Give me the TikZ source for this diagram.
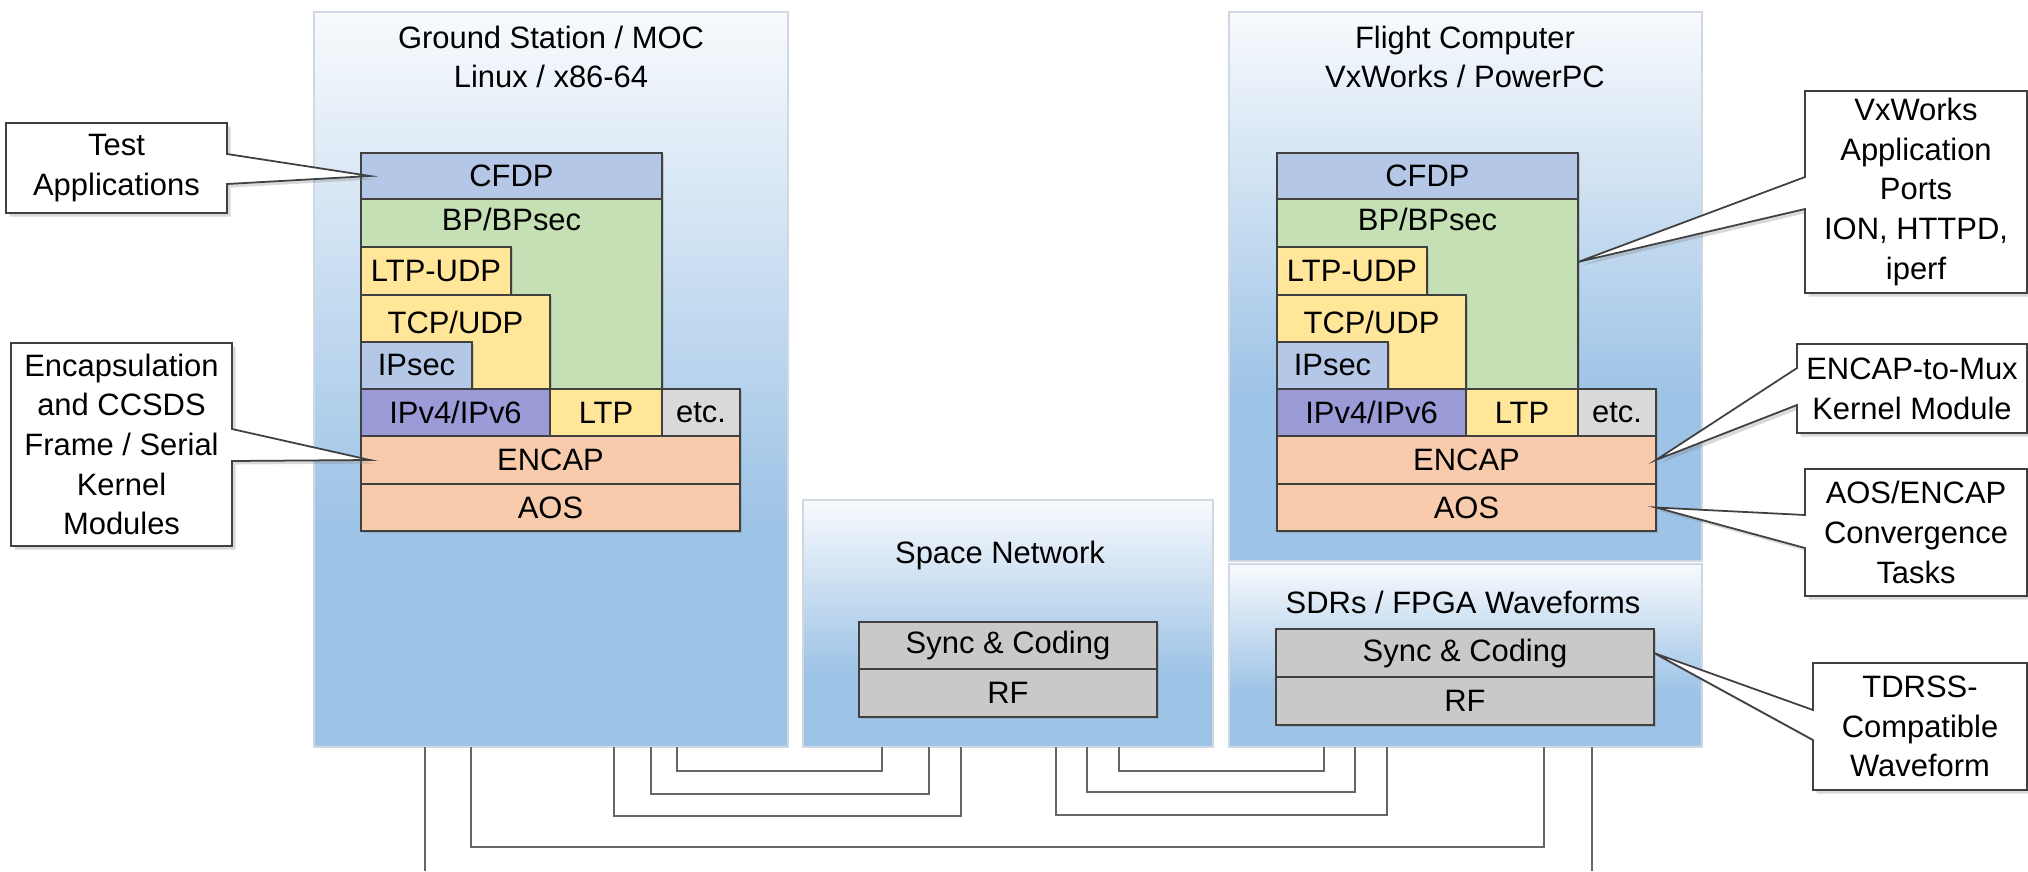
\documentclass[tikz,border=0pt]{standalone}
\usepackage{fontspec}
\setmainfont{Liberation Sans}
\usetikzlibrary{calc}
\usetikzlibrary{shadows}

\definecolor{panelblue}{HTML}{9DC3E6}
\definecolor{paneltop}{HTML}{F8FAFD}
\definecolor{panelline}{HTML}{D0D8E1}
\definecolor{appblue}{HTML}{B4C7E7}
\definecolor{bpgreen}{HTML}{C5E0B4}
\definecolor{tpyellow}{HTML}{FFE699}
\definecolor{ipviolet}{HTML}{9B9BD7}
\definecolor{etcgray}{HTML}{D9D9D9}
\definecolor{linkpeach}{HTML}{F8CBAD}
\definecolor{phygray}{HTML}{C9C9C9}
\definecolor{boxline}{HTML}{404040}

\pgfdeclareverticalshading{panelshade}{100bp}{color(0bp)=(panelblue); color(25bp)=(panelblue); color(40bp)=(panelblue); color(75bp)=(paneltop); color(100bp)=(paneltop)}

\tikzset{
  panel/.style={rectangle, draw=panelline, line width=0.4pt, shading=panelshade, anchor=north west, inner sep=0pt, outer sep=0pt},
  layer/.style={rectangle, draw=boxline, line width=0.5pt, anchor=north west, inner sep=0pt, outer sep=0pt,
    drop shadow={shadow xshift=0.6pt, shadow yshift=-0.6pt, opacity=0.3}},
  tag/.style={inner sep=0pt, anchor=north},
  callbox/.style={rectangle, inner sep=0pt, outer sep=0pt},
  callout/.style={fill=white, draw=boxline, line width=0.5pt,
    drop shadow={shadow xshift=1pt, shadow yshift=-1pt, opacity=0.3}},
  calltext/.style={align=center, inner sep=0pt},
  wire/.style={draw=black!60, line width=0.6pt}
}

\begin{document}
\begin{tikzpicture}[x=0.1mm, y=-0.1mm, font=\fontsize{8.8}{11.3}\selectfont]
  \useasboundingbox (0,0) rectangle (2028,871);

  % panels
  \node[panel, minimum width=47.4mm, minimum height=73.5mm] (gs) at (314,12) {};
  \node[panel, minimum width=47.3mm, minimum height=54.9mm] (fc) at (1229,12) {};
  \node[panel, minimum width=41.0mm, minimum height=24.7mm] (sn) at (803,500) {};
  \node[panel, minimum width=47.3mm, minimum height=18.3mm] (sdr) at (1229,564) {};

  \node[align=center] (gs-title) at (551,57) {Ground Station / MOC\\Linux / x86-64};
  \node[align=center] (fc-title) at (1465,57) {Flight Computer\\VxWorks / PowerPC};
  \node (sn-title) at (1000,555) {Space Network};
  \node (sdr-title) at (1463,602) {SDRs / FPGA Waveforms};

  % links between panels
  \foreach \a/\b/\h in {677/882/771, 651/929/794, 614/961/816}
    \draw[wire] (\a,0 |- gs.south) |- (\b,\h) -- (\b,0 |- sn.south);
  \foreach \a/\b/\h in {1119/1324/771, 1087/1355/792, 1056/1387/815}
    \draw[wire] (\a,0 |- sn.south) |- (\b,\h) -- (\b,0 |- sdr.south);
  \draw[wire] (471,0 |- gs.south) |- (1544,847) -- (1544,0 |- sdr.south);
  \coordinate (gs-out) at (425,871);
  \coordinate (sdr-out) at (1592,871);
  \draw[wire] (gs-out |- gs.south) -- (gs-out);
  \draw[wire] (sdr-out |- sdr.south) -- (sdr-out);

  % protocol stacks
  \foreach \s/\dx in {g/0mm, f/91.6mm}{
    \begin{scope}[xshift=\dx]
      \node[layer, fill=appblue, minimum width=30.1mm, minimum height=4.6mm] (\s-cfdp) at (361,153) {CFDP};
      \node[layer, fill=bpgreen, minimum width=30.1mm, minimum height=19mm] (\s-bp) at (\s-cfdp.south west) {};
      \node[tag] (\s-bptext) at ($(\s-bp.north)+(0,8)$) {BP/BPsec};
      \node[layer, fill=tpyellow, minimum width=15mm, minimum height=4.8mm] (\s-ltpudp) at ($(\s-bp.north west)+(0,48)$) {LTP-UDP};
      \node[layer, fill=tpyellow, minimum width=18.9mm, minimum height=9.4mm] (\s-tcpudp) at (\s-ltpudp.south west) {};
      \node[tag] (\s-tcptext) at ($(\s-tcpudp.north)+(0,15)$) {TCP/UDP};
      \node[layer, fill=appblue, anchor=south west, minimum width=11.1mm, minimum height=4.7mm] (\s-ipsec) at (\s-tcpudp.south west) {IPsec};
      \node[layer, fill=ipviolet, minimum width=18.9mm, minimum height=4.7mm] (\s-ipv) at (\s-bp.south west) {IPv4/IPv6};
      \node[layer, fill=tpyellow, minimum width=11.2mm, minimum height=4.7mm] (\s-ltp) at (\s-ipv.north east) {LTP};
      \node[layer, fill=etcgray, minimum width=7.8mm, minimum height=4.7mm] (\s-etc) at (\s-ltp.north east) {etc.};
      \node[layer, fill=linkpeach, minimum width=37.9mm, minimum height=4.8mm] (\s-encap) at (\s-ipv.south west) {ENCAP};
      \node[layer, fill=linkpeach, minimum width=37.9mm, minimum height=4.7mm] (\s-aos) at (\s-encap.south west) {AOS};
    \end{scope}
  }

  % radio layers
  \node[layer, fill=phygray, minimum width=29.8mm, minimum height=4.7mm] (sn-sync) at (859,622) {Sync \& Coding};
  \node[layer, fill=phygray, minimum width=29.8mm, minimum height=4.8mm] (sn-rf) at (sn-sync.south west) {RF};
  \node[layer, fill=phygray, minimum width=37.8mm, minimum height=4.8mm] (sdr-sync) at (1276,629) {Sync \& Coding};
  \node[layer, fill=phygray, minimum width=37.8mm, minimum height=4.8mm] (sdr-rf) at (sdr-sync.south west) {RF};

  % callouts
  \path node[callbox, minimum width=22.1mm, minimum height=9mm] (ta) at (116.5,168) {};
  \draw[callout] (ta.north west) -- (ta.north east) -- ($(ta.north east)+(0,31)$)
    -- ($(g-cfdp.west)+(9,0)$) -- ($(ta.north east)+(0,61)$) -- (ta.south east) -- (ta.south west) -- cycle;
  \node[calltext] (ta-text) at (ta) {Test\\Applications};

  \path node[callbox, minimum width=22.1mm, minimum height=20.3mm] (enc) at (121.5,444.5) {};
  \draw[callout] (enc.north west) -- (enc.north east) -- ($(enc.north east)+(0,86)$)
    -- ($(g-encap.west)+(9,0)$) -- ($(enc.north east)+(0,118)$) -- (enc.south east) -- (enc.south west) -- cycle;
  \node[calltext] (enc-text) at (enc) {Encapsulation\\and CCSDS\\Frame / Serial\\Kernel\\Modules};

  \path node[callbox, minimum width=22.2mm, minimum height=20.2mm] (vx) at (1916,192) {};
  \draw[callout] (vx.north west) -- (vx.north east) -- (vx.south east) -- (vx.south west)
    -- ($(vx.north west)+(0,118)$) -- ($(f-bp.east)+(0,-32)$) -- ($(vx.north west)+(0,86)$) -- cycle;
  \node[calltext] (vx-text) at (vx) {VxWorks\\Application\\Ports\\ION, HTTPD,\\iperf};

  \path node[callbox, minimum width=23mm, minimum height=8.9mm] (mux) at (1912,388.5) {};
  \draw[callout] (mux.north west) -- (mux.north east) -- (mux.south east) -- (mux.south west)
    -- ($(mux.north west)+(0,61)$) -- (f-encap.east) -- ($(mux.north west)+(0,24)$) -- cycle;
  \node[calltext] (mux-text) at (mux) {ENCAP-to-Mux\\Kernel Module};

  \path node[callbox, minimum width=22.2mm, minimum height=12.7mm] (conv) at (1916,532.5) {};
  \draw[callout] (conv.north west) -- (conv.north east) -- (conv.south east) -- (conv.south west)
    -- ($(conv.north west)+(0,79)$) -- (f-aos.east) -- ($(conv.north west)+(0,46)$) -- cycle;
  \node[calltext] (conv-text) at (conv) {AOS/ENCAP\\Convergence\\Tasks};

  \path node[callbox, minimum width=21.4mm, minimum height=12.7mm] (wf) at (1920,726.5) {};
  \draw[callout] (wf.north west) -- (wf.north east) -- (wf.south east) -- (wf.south west)
    -- ($(wf.north west)+(0,77)$) -- (sdr-sync.east) -- ($(wf.north west)+(0,47)$) -- cycle;
  \node[calltext] (wf-text) at (wf) {TDRSS-\\Compatible\\Waveform};
\end{tikzpicture}
\end{document}
